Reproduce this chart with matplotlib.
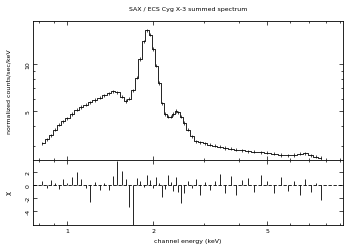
import numpy as np
import matplotlib
matplotlib.use("Agg")
import matplotlib.pyplot as plt
from matplotlib.ticker import FixedLocator, NullFormatter

# channel energies (keV), normalized counts and residuals
energy = [0.82, 0.85, 0.88, 0.91, 0.94, 0.97, 1.00, 1.04, 1.08, 1.12, 1.16, 1.20,
          1.25, 1.30, 1.35, 1.40, 1.45, 1.50, 1.55, 1.60, 1.65, 1.70, 1.75, 1.80,
          1.85, 1.90, 1.95, 2.00, 2.05, 2.10, 2.15, 2.20, 2.25, 2.30, 2.35, 2.40,
          2.45, 2.50, 2.57, 2.65, 2.73, 2.82, 2.92, 3.03, 3.15, 3.28, 3.42, 3.57,
          3.73, 3.90, 4.10, 4.30, 4.50, 4.75, 5.00, 5.30, 5.60, 5.90, 6.20, 6.50,
          6.80, 7.10, 7.40, 7.70]
counts = [3.1, 3.3, 3.5, 3.8, 4.1, 4.3, 4.5, 4.8, 5.1, 5.3, 5.5, 5.7,
          5.9, 6.1, 6.3, 6.5, 6.7, 6.6, 6.2, 5.8, 6.0, 6.8, 8.2, 10.8,
          14.0, 16.5, 15.5, 12.5, 9.8, 7.6, 5.6, 4.8, 4.6, 4.6, 4.8, 5.0,
          4.9, 4.6, 4.2, 3.8, 3.45, 3.2, 3.15, 3.1, 3.05, 3.0, 2.95, 2.9,
          2.87, 2.83, 2.8, 2.76, 2.74, 2.72, 2.7, 2.66, 2.62, 2.6, 2.62, 2.66,
          2.68, 2.6, 2.55, 2.5]
resid = [0.6, -0.5, 0.8, 0.4, -0.6, 0.9, 0.3, 1.2, 2.1, 1.0, -0.4, -2.6,
         0.5, -0.7, 0.3, -0.8, 1.4, 3.7, 2.2, 0.9, -3.4, -6.5, 1.1, 0.7,
         -0.3, 1.6, 0.8, -0.5, 1.3, 0.4, -1.8, -0.6, 1.5, 0.5, -0.9, 1.2,
         -1.0, -2.8, -1.3, 0.6, -0.4, 0.9, -1.5, 0.5, -0.8, 0.7, 1.7, -1.2,
         1.4, -1.6, 0.8, 1.1, -1.0, 1.5, 0.6, -1.3, 1.2, -0.9, 0.7, -1.5,
         0.9, -1.1, 0.4, -2.3]

e = np.array(energy)
c = np.array(counts)
# half bin widths from neighbouring channels
edges = np.sqrt(e[:-1] * e[1:])
edges = np.concatenate([[e[0] ** 2 / edges[0]], edges, [e[-1] ** 2 / edges[-1]]])
xlo = e - edges[:-1]
xhi = edges[1:] - e

plt.rcParams['font.size'] = 4.5
fig = plt.figure(figsize=(3.51, 2.51), dpi=100)
ax1 = fig.add_axes([0.094, 0.359, 0.883, 0.554])
ax2 = fig.add_axes([0.094, 0.0996, 0.883, 0.259], sharex=ax1)

ax1.errorbar(e, c, yerr=c * 0.025, fmt='none', ecolor='black', elinewidth=0.5)
ax1.plot(e, c, drawstyle='steps-mid', color='black', linewidth=0.6)
ax1.set_xscale('log')
ax1.set_yscale('log')
ax1.set_xlim(0.76, 9.2)
ax1.set_ylim(2.43, 19)
ax1.yaxis.set_major_locator(FixedLocator([5, 10]))
ax1.yaxis.set_minor_locator(FixedLocator([3, 4, 6, 7, 8, 9]))
ax1.yaxis.set_minor_formatter(NullFormatter())
ax1.set_yticklabels(['5', '10'], rotation=90, va='center')
ax1.tick_params(labelbottom=False)
ax1.set_ylabel('normalized counts/sec/keV', fontsize=4.5, labelpad=10)
ax1.set_title('SAX / ECS Cyg X-3 summed spectrum', fontsize=4.5, pad=8)

ax2.vlines(e, 0, resid, colors='black', linewidth=0.6)
ax2.axhline(0, color='black', linewidth=0.6, linestyle=(0, (4, 2)))
ax2.set_ylim(-6.2, 3.9)
ax2.set_yticks([-4, -2, 0, 2])
ax2.set_yticklabels(['-4', '-2', '0', '2'], rotation=90, va='center')
ax2.set_xticks([1, 2, 5])
ax2.set_xticklabels(['1', '2', '5'])
ax2.xaxis.set_minor_formatter(NullFormatter())
ax2.set_ylabel('χ', fontsize=5, labelpad=10)
ax2.set_xlabel('channel energy (keV)', fontsize=4.5)

for ax in (ax1, ax2):
    ax.tick_params(which='both', direction='in', top=True, right=True,
                   width=0.5, length=3, pad=2)
    ax.tick_params(which='minor', length=1.5)
    for s in ax.spines.values():
        s.set_linewidth(0.6)

fig.savefig('out.png', dpi=100)
